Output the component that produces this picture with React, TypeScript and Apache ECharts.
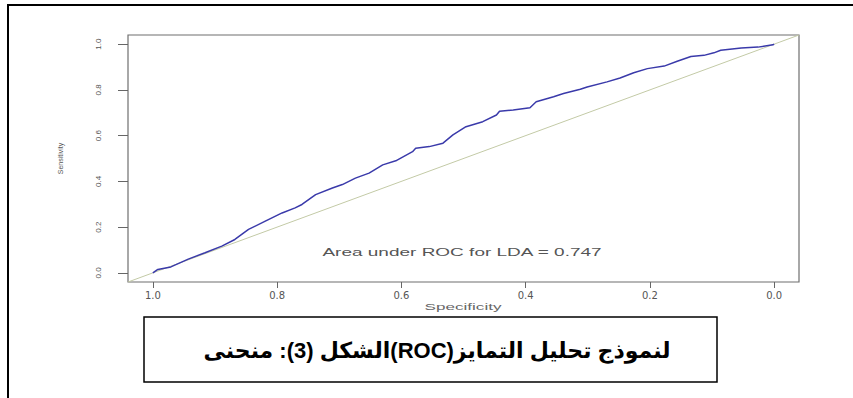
import React, { useEffect, useRef } from "react";
import * as echarts from "echarts";

// ROC curve points
const specificity = [
  1.0, 0.992, 0.971, 0.943, 0.916, 0.889, 0.868, 0.846, 0.819, 0.792, 0.771, 0.76,
  0.738, 0.711, 0.695, 0.674, 0.652, 0.63, 0.609, 0.582, 0.577, 0.555, 0.533, 0.517,
  0.496, 0.469, 0.447, 0.442, 0.42, 0.393, 0.383, 0.355, 0.339, 0.312, 0.301, 0.269,
  0.248, 0.226, 0.204, 0.177, 0.156, 0.134, 0.113, 0.097, 0.086, 0.053, 0.026, 0.002, 0.0,
];
const sensitivity = [
  0.0, 0.015, 0.026, 0.06, 0.088, 0.117, 0.146, 0.19, 0.226, 0.262, 0.284, 0.299,
  0.342, 0.371, 0.386, 0.414, 0.436, 0.472, 0.49, 0.53, 0.545, 0.552, 0.567, 0.603,
  0.639, 0.661, 0.69, 0.707, 0.712, 0.722, 0.748, 0.77, 0.784, 0.803, 0.813, 0.835,
  0.852, 0.875, 0.893, 0.904, 0.925, 0.946, 0.951, 0.962, 0.973, 0.983, 0.987, 0.997, 1.0,
];
const tickValues = [0, 0.2, 0.4, 0.6, 0.8, 1.0];
const diagonalSpec = [1.04, -0.04];
const diagonalSens = [-0.04, 1.04];
const axisMin = -0.04;
const axisMax = 1.04;
const aucText = "Area under ROC for LDA = 0.747";
const xTitle = "Specificity";
const yTitle = "Sensitivity";
const captionText = "لنموذج تحليل التمايز(ROC)الشكل (3): منحنى";

export default function App() {
  const ref = useRef<HTMLDivElement>(null);
  useEffect(() => {
    if (!ref.current) return;
    const chart = echarts.init(ref.current, null, { renderer: "svg" });
    const curve = specificity.map((s, i) => [s, sensitivity[i]]);
    const diag = diagonalSpec.map((s, i) => [s, diagonalSens[i]]);
    chart.setOption({
      animation: false,
      backgroundColor: "#ffffff",
      grid: {
        left: 128,
        top: 35,
        right: 54,
        bottom: 116,
        show: true,
        borderColor: "#6f6f6f",
        borderWidth: 1.2,
        outerBoundsMode: "none",
      },
      xAxis: {
        type: "value",
        inverse: true,
        min: axisMin,
        max: axisMax,
        splitLine: { show: false },
        axisLine: { show: false, onZero: false },
        axisTick: {
          show: true,
          length: 6,
          customValues: tickValues,
          lineStyle: { color: "#666" },
        },
        axisLabel: {
          customValues: tickValues,
          formatter: (v: number) => v.toFixed(1),
          fontFamily: "DejaVu Sans",
          fontSize: 10,
          color: "#555",
          margin: 8,
        },
      },
      yAxis: {
        type: "value",
        min: axisMin,
        max: axisMax,
        name: yTitle,
        nameLocation: "middle",
        nameGap: 64,
        nameTextStyle: { fontFamily: "Liberation Sans", fontSize: 7, color: "#555" },
        splitLine: { show: false },
        axisLine: { show: false, onZero: false },
        axisTick: {
          show: true,
          length: 10,
          customValues: tickValues,
          lineStyle: { color: "#666" },
        },
        axisLabel: {
          customValues: tickValues,
          formatter: (v: number) => v.toFixed(1),
          rotate: 90,
          fontFamily: "Liberation Sans",
          fontSize: 8,
          color: "#555",
          margin: 26,
        },
      },
      series: [
        {
          type: "line",
          data: diag,
          symbol: "none",
          lineStyle: { color: "#c3caa6", width: 1 },
          z: 1,
        },
        {
          type: "line",
          data: curve,
          symbol: "none",
          lineStyle: { color: "#3a3aaa", width: 1.5 },
          z: 2,
        },
      ],
      graphic: [
        {
          type: "rect",
          shape: { x: 8, y: 5, width: 1000, height: 1000 },
          style: { fill: "none", stroke: "#000", lineWidth: 2 },
          silent: true,
        },
        {
          type: "text",
          x: 462,
          y: 252,
          scaleX: 1.9,
          style: {
            text: aucText,
            font: "10px 'Liberation Sans'",
            fill: "#555",
            align: "center",
            verticalAlign: "middle",
          },
        },
        {
          type: "text",
          x: 463,
          y: 307,
          scaleX: 1.9,
          style: {
            text: xTitle,
            font: "9px 'Liberation Sans'",
            fill: "#666",
            align: "center",
            verticalAlign: "middle",
          },
        },
        {
          type: "rect",
          shape: { x: 144, y: 317, width: 573, height: 65 },
          style: { fill: "#fff", stroke: "#000", lineWidth: 1.5 },
        },
        {
          type: "text",
          x: 437,
          y: 350,
          style: {
            text: "\u202B" + captionText + "\u202C",
            font: "bold 22px 'Liberation Sans', 'DejaVu Sans'",
            fill: "#000",
            align: "center",
            verticalAlign: "middle",
          },
        },
      ],
    });
    return () => chart.dispose();
  }, []);
  return (
    <div
      ref={ref}
      style={{ position: "fixed", left: 0, top: 0, width: 853, height: 398 }}
    />
  );
}
